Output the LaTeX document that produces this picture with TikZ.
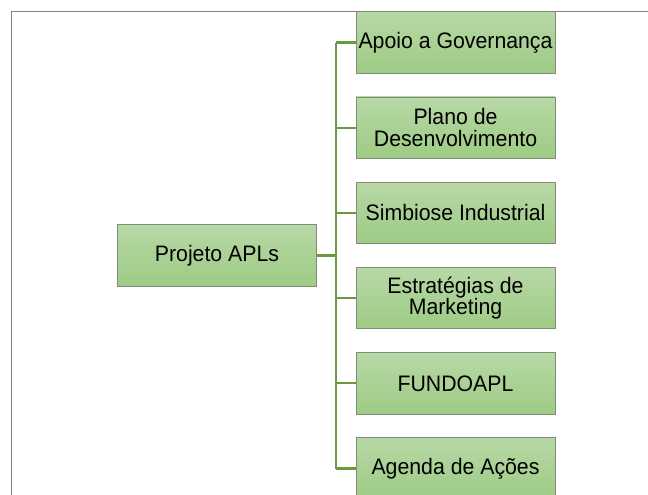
\documentclass[tikz,border=0pt]{standalone}
\usepackage{fontspec}
\setmainfont{Liberation Sans}[FakeStretch=0.95]
\usepackage{tikz}

\definecolor{boxtop}{RGB}{184,216,166}
\definecolor{boxbottom}{RGB}{157,203,132}
\definecolor{boxline}{RGB}{128,140,120}
\definecolor{linkgreen}{RGB}{106,154,60}
\definecolor{framegray}{RGB}{128,128,128}

\tikzset{
  apl/.style={rectangle, draw=boxline, line width=0.6pt, top color=boxtop, bottom color=boxbottom,
    minimum width=149.25pt, minimum height=46.1pt, inner sep=0pt, outer sep=0pt, align=center,
    font=\fontsize{16.8}{16.3}\selectfont},
  link/.style={draw=linkgreen, line width=1.7pt}
}

\begin{document}
\begin{tikzpicture}[x=0.75pt,y=0.75pt,yscale=-1,xscale=1]
\useasboundingbox (0,0) rectangle (648,494);
\clip (0,0) rectangle (648,494);

%Frame
\draw [draw=framegray, line width=1.1pt]  (11.5,510) -- (11.5,11.5) -- (660,11.5) ;

% Root Node
\node [apl] (root) at (217,255.5) {Projeto APLs};
% Child Nodes
\node [apl] (gov) at (455.5,42.5) {Apoio a Governança};
\node [apl] (plano) at (455.5,127.7) {Plano de\\Desenvolvimento};
\node [apl] (simb) at (455.5,212.9) {Simbiose Industrial};
\node [apl] (mkt) at (455.5,298.1) {Estratégias de\\Marketing};
\node [apl] (fundo) at (455.5,383.3) {FUNDOAPL};
\node [apl] (agenda) at (455.5,468.5) {Agenda de Ações};

%Connectors
\coordinate (bus) at (336,255.5);
\draw [link]  (root.east) -- (bus) ;
\draw [link]  (bus |- gov.west) -- (bus |- agenda.west) ;
\foreach \c in {gov,plano,simb,mkt,fundo,agenda}
  \draw [link]  (bus |- \c.west) -- (\c.west) ;

\end{tikzpicture}
\end{document}
